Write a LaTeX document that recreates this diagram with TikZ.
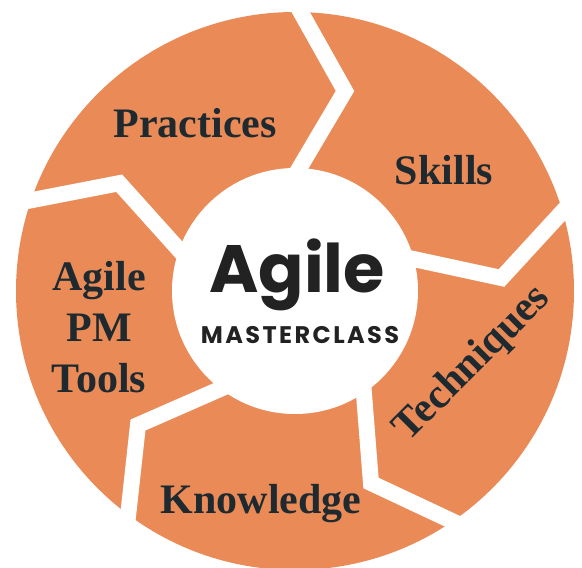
\documentclass[tikz,border=0pt]{standalone}
\usepackage{fontspec}
\setmainfont{Liberation Serif}
\newfontfamily\hubfont{Poppins}
\definecolor{wheel}{HTML}{EA8B57}
\definecolor{ink}{HTML}{1E2A30}
\definecolor{hubink}{HTML}{222222}
\tikzstyle{gap} = [draw=white, line width=16pt, line join=miter]
\tikzstyle{part} = [text=ink, align=center,
    font=\fontsize{42}{51}\selectfont\bfseries]
\tikzstyle{hubtitle} = [text=hubink, font=\hubfont\bfseries\fontsize{67}{70}\selectfont]
\tikzstyle{hubsub} = [text=hubink,
    font=\hubfont\bfseries\fontsize{24}{26}\selectfont\addfontfeatures{LetterSpace=10}]

\begin{document}
\begin{tikzpicture}[x=1pt,y=-1pt]
                \useasboundingbox[fill=white] (0,0) rectangle (582,568);
                \fill[wheel] (295,291) circle (279pt);
                \path [gap] (290,-7) -- (345,91) -- (290,184);
                \path [gap] (395,255) -- (501.5,278) -- (575,198);
                \path [gap] (362.5,375) -- (371,483) -- (470,529.5);
                \path [gap] (235,382.5) -- (138,425) -- (126.5,530);
                \path [gap] (190,262) -- (119.2,183.2) -- (15,203.4);
                \fill[white] (295,291) circle (123pt);
                \node [part, anchor=base] at (195,137) (practices) {Practices};
                \node [part, anchor=base] at (444,184) (skills) {Skills};
                \node [part, rotate=45] at (473,364) (techniques) {Techniques};
                \node [part, anchor=base] at (261,513) (knowledge) {Knowledge};
                \node [part, anchor=base] at (99,392) (tools) {Agile\\PM\\Tools};
                \node [hubtitle, anchor=base] at (297,292) (agile) {Agile};
                \node [hubsub, anchor=base] at (300,343) (masterclass) {MASTERCLASS};
            \end{tikzpicture}
\end{document}
